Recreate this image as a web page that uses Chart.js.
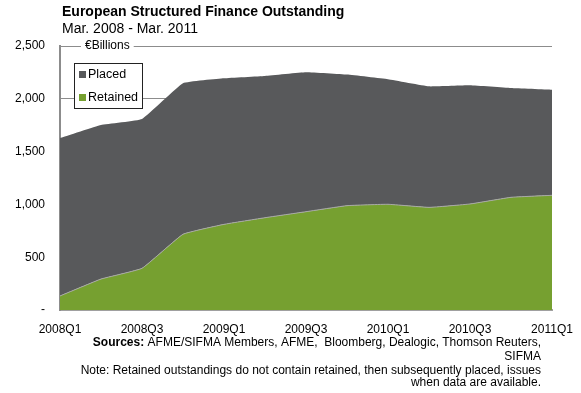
<!DOCTYPE html>
<html>
<head>
<meta charset="utf-8">
<script src="https://cdn.jsdelivr.net/npm/chart.js@4.4.0/dist/chart.umd.min.js"></script>
<style>
  html, body { margin: 0; padding: 0; background: #fff; }
  #wrap { width: 581px; height: 393px; position: relative; }
</style>
</head>
<body>
<div id="wrap"><canvas id="chart" width="581" height="393"></canvas></div>
<script>
// quarterly outstanding, EUR billions
const quarters = ['2008Q1', '2008Q2', '2008Q3', '2008Q4', '2009Q1', '2009Q2', '2009Q3',
                  '2009Q4', '2010Q1', '2010Q2', '2010Q3', '2010Q4', '2011Q1'];
const retained = [133, 293, 395, 717, 811, 874, 931, 988, 1001, 972, 1004, 1067, 1086];
const placed   = [1495, 1459, 1414, 1430, 1383, 1342, 1320, 1241, 1184, 1146, 1124, 1035, 1000];
const yTicks   = [0, 500, 1000, 1500, 2000, 2500];

const titleText = 'European Structured Finance Outstanding';
const subtitleText = 'Mar. 2008 - Mar. 2011';
const unitText = '€Billions';
const footerLines = [
  'Sources: AFME/SIFMA Members, AFME,  Bloomberg, Dealogic, Thomson Reuters,',
  'SIFMA',
  'Note: Retained outstandings do not contain retained, then subsequently placed, issues',
  'when data are available.'
];

const FONT = '"Liberation Sans", Arial, sans-serif';
const GREEN = '#76a030';
const GREY = '#58595b';

// titles, unit label, legend box and footnotes
const decorations = {
  id: 'decorations',
  afterDraw(chart) {
    const ctx = chart.ctx;
    const area = chart.chartArea;
    ctx.save();
    ctx.fillStyle = '#000';
    ctx.textBaseline = 'alphabetic';
    ctx.textAlign = 'left';
    ctx.font = 'bold 14px ' + FONT;
    ctx.fillText(titleText, 62, 16);
    ctx.font = '14px ' + FONT;
    ctx.fillText(subtitleText, 62, 33);

    // unit label sitting on the top gridline
    ctx.font = '12px ' + FONT;
    const uw = ctx.measureText(unitText).width;
    ctx.fillStyle = '#fff';
    ctx.fillRect(area.left + 21, area.top - 7, uw + 8, 14);
    ctx.fillStyle = '#000';
    ctx.textBaseline = 'middle';
    ctx.fillText(unitText, area.left + 25, area.top);

    // legend
    const lx = 74, ly = 63, lw = 68, lh = 45;
    ctx.fillStyle = '#fff';
    ctx.fillRect(lx, ly, lw, lh);
    ctx.strokeStyle = '#222';
    ctx.lineWidth = 1;
    ctx.strokeRect(lx + 0.5, ly + 0.5, lw, lh);
    const items = [[GREY, 'Placed', ly + 12], [GREEN, 'Retained', ly + 35]];
    items.forEach(([c, label, y]) => {
      ctx.fillStyle = c;
      ctx.fillRect(lx + 5, y - 4, 7, 7);
      ctx.fillStyle = '#000';
      ctx.font = '12.5px ' + FONT;
      ctx.fillText(label, lx + 14, y);
    });

    // footnotes, right aligned
    ctx.textAlign = 'right';
    ctx.textBaseline = 'middle';
    const fy = [343, 357, 371, 383];
    footerLines.forEach((line, i) => {
      if (i === 0) {
        const rest = line.slice('Sources:'.length);
        ctx.font = '12px ' + FONT;
        const rw = ctx.measureText(rest).width;
        ctx.fillText(rest, 541, fy[i]);
        ctx.font = 'bold 12px ' + FONT;
        ctx.fillText('Sources:', 541 - rw, fy[i]);
      } else {
        ctx.font = '12px ' + FONT;
        ctx.fillText(line, 541, fy[i]);
      }
    });
    ctx.restore();
  }
};

new Chart(document.getElementById('chart'), {
  type: 'line',
  data: {
    labels: quarters,
    datasets: [
      {
        label: 'Retained',
        data: retained,
        backgroundColor: GREEN,
        borderColor: '#a8a8a8',
        borderWidth: 1,
        fill: 'origin',
        pointRadius: 0,
        tension: 0.1
      },
      {
        label: 'Placed',
        data: placed,
        backgroundColor: GREY,
        borderColor: GREY,
        borderWidth: 0,
        fill: '-1',
        pointRadius: 0,
        tension: 0.1
      }
    ]
  },
  options: {
    responsive: false,
    animation: false,
    layout: { padding: { top: 46, right: 29, left: 0, bottom: 0 } },
    plugins: {
      legend: { display: false },
      title: { display: false },
      tooltip: { enabled: false }
    },
    scales: {
      x: {
        offset: false,
        afterFit(scale) {
          scale.height = 83;
          scale.paddingLeft = 0;
          scale.paddingRight = 0;
        },
        grid: { display: false, drawTicks: false },
        border: { color: '#a0a0a0', width: 2 },
        ticks: {
          autoSkip: false,
          maxRotation: 0,
          padding: 12,
          color: '#000',
          font: { family: FONT, size: 12 },
          callback: (v, i) => (i % 2 === 0 ? quarters[i] : '')
        }
      },
      y: {
        stacked: true,
        min: 0,
        max: 2500,
        afterFit(scale) { scale.width = 60; },
        afterBuildTicks(scale) { scale.ticks = yTicks.map(v => ({ value: v })); },
        grid: { color: '#8c8c8c', drawTicks: false, lineWidth: 1 },
        border: { color: '#8c8c8c', width: 2 },
        ticks: {
          padding: 15,
          color: '#000',
          font: { family: FONT, size: 12 },
          callback: v => (v === 0 ? '-' : v.toLocaleString('en-US'))
        }
      }
    }
  },
  plugins: [decorations]
});
</script>
</body>
</html>
